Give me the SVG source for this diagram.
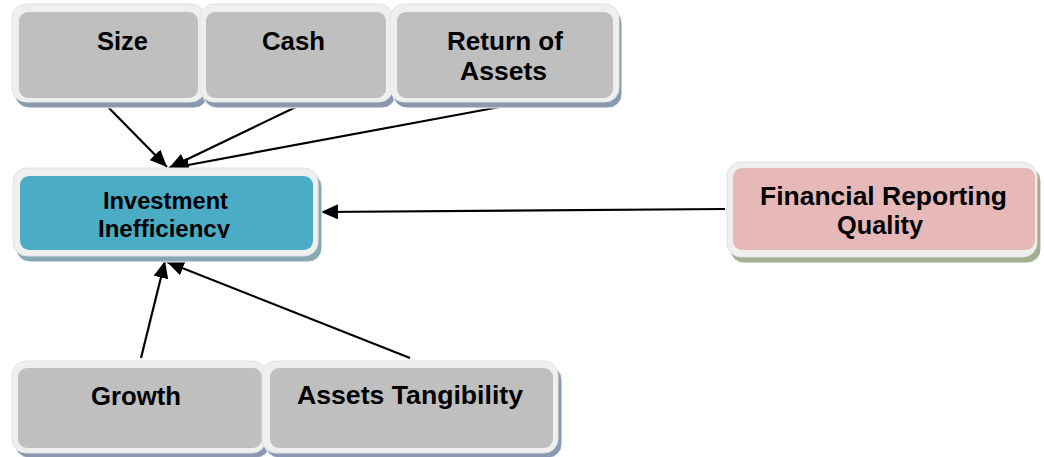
<svg xmlns="http://www.w3.org/2000/svg" width="1044" height="457" viewBox="0 0 1044 457">
  <defs>
    <marker id="arrow" viewBox="0 0 17 15" refX="17" refY="7.5" markerWidth="17" markerHeight="15" markerUnits="userSpaceOnUse" orient="auto">
      <path d="M0,0 L17,7.5 L0,15 z" fill="#000"/>
    </marker>
    <clipPath id="clip-inv">
      <rect x="20" y="176" width="293" height="62"/>
    </clipPath>
  </defs>
  <style>
    .frame { fill: #efefef; stroke: #e2e2e2; stroke-width: 1; }
    .sh-grey { fill: #8a98b0; stroke: #ffffff; stroke-width: 1; }
    .sh-teal { fill: #86a9b3; stroke: #ffffff; stroke-width: 1; }
    .sh-pink { fill: #a3ad8f; stroke: #ffffff; stroke-width: 1; }
    .grey { fill: #bfbfbf; }
    .teal { fill: #4bacc6; }
    .pink { fill: #e6b9b8; }
    text { fill: #000; text-anchor: middle; font-weight: bold; }
    .lbl { font-size: 25px; }
    .lbl-s { font-size: 23px; }
    .link { stroke: #000; stroke-width: 2.2; fill: none; marker-end: url(#arrow); }
  </style>

  <g id="connectors">
    <line class="link" x1="108" y1="107" x2="167" y2="167"/>
    <line class="link" x1="298" y1="106" x2="169" y2="168"/>
    <line class="link" x1="505" y1="106" x2="172" y2="168"/>
    <line class="link" x1="725" y1="209" x2="321" y2="212"/>
    <line class="link" x1="141" y1="358" x2="165" y2="261"/>
    <line class="link" x1="410" y1="358" x2="167" y2="262"/>
  </g>

  <g font-family="Liberation Sans, Arial, sans-serif">
  <g id="node-size">
    <rect class="sh-grey" x="15" y="9" width="193" height="99" rx="14"/>
    <rect class="frame" x="12" y="4" width="193" height="98" rx="14"/>
    <rect class="grey" x="19" y="12" width="179" height="86" rx="9"/>
    <text class="lbl" x="122.5" y="50" textLength="51" lengthAdjust="spacingAndGlyphs">Size</text>
  </g>

  <g id="node-cash">
    <rect class="sh-grey" x="203" y="9" width="193" height="99" rx="14"/>
    <rect class="frame" x="200" y="4" width="193" height="98" rx="14"/>
    <rect class="grey" x="206" y="12" width="180" height="86" rx="9"/>
    <text class="lbl" x="293.5" y="50" textLength="63" lengthAdjust="spacingAndGlyphs">Cash</text>
  </g>

  <g id="node-return">
    <rect class="sh-grey" x="393" y="9" width="229" height="99" rx="14"/>
    <rect class="frame" x="390" y="4" width="229" height="98" rx="14"/>
    <rect class="grey" x="397" y="12" width="216" height="86" rx="9"/>
    <text class="lbl" x="505" y="50" textLength="116" lengthAdjust="spacingAndGlyphs">Return of</text>
    <text class="lbl" x="503.5" y="80" textLength="87" lengthAdjust="spacingAndGlyphs">Assets</text>
  </g>

  <g id="node-investment">
    <rect class="sh-teal" x="16" y="173" width="306" height="89" rx="14"/>
    <rect class="frame" x="13" y="168" width="305" height="88" rx="14"/>
    <rect class="teal" x="20" y="176" width="293" height="74" rx="9"/>
    <g clip-path="url(#clip-inv)">
      <text class="lbl-s" x="165.5" y="209" textLength="125" lengthAdjust="spacingAndGlyphs">Investment</text>
      <text class="lbl-s" x="164" y="237" textLength="132" lengthAdjust="spacingAndGlyphs">Inefficiency</text>
    </g>
  </g>

  <g id="node-frq">
    <rect class="sh-pink" x="730" y="167" width="311" height="96" rx="14"/>
    <rect class="frame" x="727" y="162" width="310" height="95" rx="14"/>
    <rect class="pink" x="733" y="168" width="302" height="82" rx="9"/>
    <text class="lbl" x="883.5" y="205" textLength="247" lengthAdjust="spacingAndGlyphs">Financial Reporting</text>
    <text class="lbl" x="880" y="234" textLength="86" lengthAdjust="spacingAndGlyphs">Quality</text>
  </g>

  <g id="node-growth">
    <rect class="sh-grey" x="15" y="366" width="255" height="92" rx="14"/>
    <rect class="frame" x="12" y="361" width="254" height="92" rx="14"/>
    <rect class="grey" x="18" y="368" width="244" height="80" rx="9"/>
    <text class="lbl" x="136" y="405" textLength="90" lengthAdjust="spacingAndGlyphs">Growth</text>
  </g>

  <g id="node-tangibility">
    <rect class="sh-grey" x="265" y="366" width="297" height="92" rx="14"/>
    <rect class="frame" x="262" y="361" width="296" height="92" rx="14"/>
    <rect class="grey" x="270" y="368" width="283" height="80" rx="9"/>
    <text class="lbl" x="410" y="404" textLength="226" lengthAdjust="spacingAndGlyphs">Assets Tangibility</text>
  </g>
  </g>
</svg>
